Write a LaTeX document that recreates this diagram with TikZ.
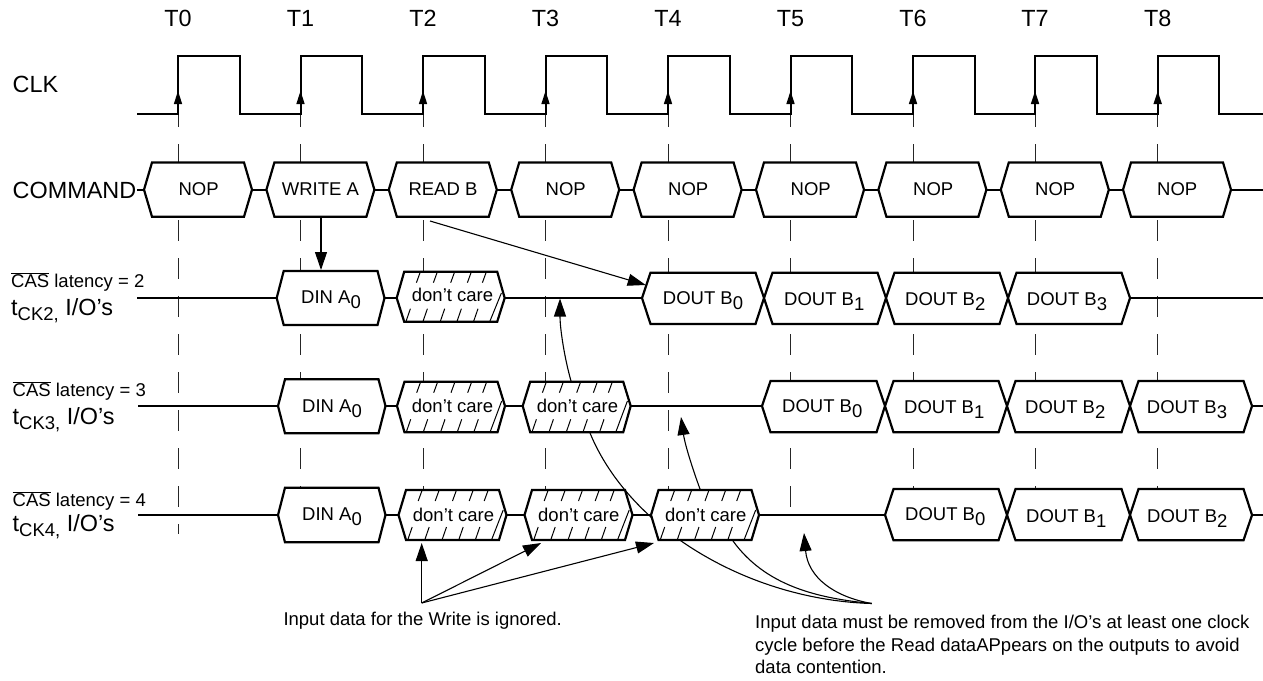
\documentclass[tikz,border=0pt]{standalone}
\usepackage{fontspec}
\setmainfont{Liberation Sans}
\usetikzlibrary{arrows.meta}
\newcommand\fsm{\fontsize{18.5}{22}\selectfont}
\newcommand\fbg{\fontsize{23.4}{28}\selectfont}
\newcommand\lowr[1]{\raisebox{-5pt}{#1}}
\tikzset{
  lbl/.style={anchor=base west,inner sep=0pt,font=\fsm},
  biglbl/.style={anchor=base west,inner sep=0pt,font=\fbg},
  tlbl/.style={anchor=base,inner sep=0pt,font=\fbg},
  sig/.style={line width=2.2pt,line join=miter},
  hexbody/.style={sig,fill=white},
  grid/.style={line width=1pt,dash pattern=on 21pt off 17pt,black!85},
  hatch/.style={line width=1pt},
  ckarrow/.style={line width=1.6pt,-{Triangle[length=13pt,width=8pt]}},
  note/.style={line width=1.1pt,-{Triangle[length=18pt,width=12pt]}},
  plainnote/.style={line width=1.1pt},
}
% name, left tip, right tip, mid, top, bottom, slant
\newcommand\sighex[7]{%
  \draw[hexbody] (#2,#4) -- (#2+#7,#5) -- (#3-#7,#5) -- (#3,#4) -- (#3-#7,#6) -- (#2+#7,#6) -- cycle;
  \coordinate (#1) at ({(#2+#3)/2},#4);
}
% name, left tip, mid, top, bottom
\newcommand\dchex[5]{%
  \sighex{#1}{#2}{#2+108}{#3}{#4}{#5}{7.5}
  \foreach \d in {23.7,40.7,58,74.7,89.7}
    \draw[hatch] (#2+\d,#4) -- (#2+\d-4,#4+11);
  \foreach \d in {13.7,30.7,48,64.7,81.3}
    \draw[hatch] (#2+\d,#5-13) -- (#2+\d-4.5,#5);
  \draw[hatch] (#2+104.7,#3-5) -- (#2+93,#5);
}
\begin{document}
\begin{tikzpicture}[x=1pt,y=-1pt]
\useasboundingbox (0,0) rectangle (1263,680);
% grid lines
\foreach \n/\x/\e in {0/178/534,1/300.5/488,2/423/490,3/545.5/490,4/668/490,5/790.5/507,6/913/489,7/1035/489,8/1157.7/489}{
  \coordinate (gt\n) at (\x,106);
  \coordinate (gb\n) at (\x,\e);
  \draw[grid] (gt\n) -- (gb\n);
}
% clock
\draw[line width=2pt,line join=miter] (137,113.5) -- (178,113.5) -- (178,56) -- (239.5,56) -- (239.5,113.5)
  -- (300.5,113.5) -- (300.5,56) -- (362,56) -- (362,113.5)
  -- (423,113.5) -- (423,56) -- (484.5,56) -- (484.5,113.5)
  -- (545.5,113.5) -- (545.5,56) -- (607,56) -- (607,113.5)
  -- (668,113.5) -- (668,56) -- (729.5,56) -- (729.5,113.5)
  -- (790.5,113.5) -- (790.5,56) -- (852,56) -- (852,113.5)
  -- (913,113.5) -- (913,56) -- (974.5,56) -- (974.5,113.5)
  -- (1035,113.5) -- (1035,56) -- (1097,56) -- (1097,113.5)
  -- (1157.7,113.5) -- (1157.7,56) -- (1219,56) -- (1219,113.5) -- (1263,113.5);
\foreach \n/\x in {0/178,1/300.5,2/423,3/545.5,4/668,5/790.5,6/913,7/1035,8/1157.7}{
  \coordinate (cka\n) at (\x,113);
  \coordinate (ckb\n) at (\x,91);
  \draw[ckarrow] (cka\n) -- (ckb\n);
  \node[tlbl] (t\n) at (\x,26.7) {T\n};
}
% signal base lines
\coordinate (r1a) at (137,189.7); \coordinate (r1b) at (1263,189.7);
\coordinate (r2a) at (137,298);   \coordinate (r2b) at (1263,298);
\coordinate (r3a) at (138,406);   \coordinate (r3b) at (1263,406);
\coordinate (r4a) at (138,515);   \coordinate (r4b) at (1263,515);
\draw[sig] (r1a) -- (r1b);
\draw[sig] (r2a) -- (r2b);
\draw[sig] (r3a) -- (r3b);
\draw[sig] (r4a) -- (r4b);
% command row
\foreach \k/\x in {0/144,1/266.4,2/388.8,3/511.2,4/633.6,5/756,6/878.4,7/1000.8,8/1123}
  \sighex{c\k}{\x}{\x+108}{189.7}{162.5}{216.7}{8};
% row 2
\sighex{a2}{276.7}{384.5}{298}{271}{325}{7}
\dchex{d2}{396.7}{298}{271.7}{321.7}
\sighex{b20}{642}{764}{298}{272.7}{324}{8.5}
\sighex{b21}{764}{886}{298}{272.7}{324}{8.5}
\sighex{b22}{886}{1008}{298}{272.7}{324}{8.5}
\sighex{b23}{1008}{1130}{298}{272.7}{324}{8.5}
% row 3
\sighex{a3}{278}{385.5}{406}{379.3}{433.3}{7}
\dchex{d3}{397}{406}{381.7}{432.3}
\dchex{e3}{522.7}{406}{381.7}{432.3}
\sighex{b30}{762}{885}{406}{381}{432.3}{8.5}
\sighex{b31}{885}{1007}{406}{381}{432.3}{8.5}
\sighex{b32}{1007}{1130}{406}{381}{432.3}{8.5}
\sighex{b33}{1130}{1252}{406}{381}{432.3}{8.5}
% row 4
\sighex{a4}{278}{385.5}{515}{487.7}{542.3}{7}
\dchex{d4}{398.5}{515}{490}{540}
\dchex{e4}{524.5}{515}{490}{540}
\sighex{b40}{885}{1007}{515}{489}{540.3}{8.5}
\sighex{b41}{1007}{1130}{515}{489}{540.3}{8.5}
\sighex{b42}{1130}{1252}{515}{489}{540.3}{8.5}
% long curve passes behind the third don't-care box
\coordinate (nr) at (871.7,603.5);
\coordinate (c3s) at (590,433);
\draw[plainnote] (c3s) .. controls (630,530) and (750,600) .. (nr);
\dchex{f4}{651}{515}{490}{540}
% notes connectors
\coordinate (wrs) at (321,217); \coordinate (din) at (321,270);
\draw[note] (wrs) -- (din);
\coordinate (rds) at (430,221); \coordinate (dob) at (645.7,285);
\draw[note] (rds) -- (dob);
\coordinate (e3t) at (571,381); \coordinate (r2t) at (560,298.5);
\draw[note] (e3t) .. controls (565,360) and (560,330) .. (r2t);
\coordinate (f4t) at (700,489); \coordinate (r3t) at (681,417);
\draw[note] (f4t) .. controls (693,470) and (685,445) .. (r3t);
\coordinate (f4b) at (733,541);
\draw[plainnote] (f4b) .. controls (765,585) and (815,598) .. (nr);
\coordinate (r4t) at (804,533);
\draw[note] (nr) .. controls (835,597) and (808,578) .. (r4t);
\coordinate (nl) at (421.7,603);
\coordinate (i1) at (421.7,543); \coordinate (i2) at (541,543); \coordinate (i3) at (654,543);
\draw[note] (nl) -- (i1);
\draw[note] (nl) -- (i2);
\draw[note] (nl) -- (i3);
% labels
\node[biglbl] (lclk) at (12.5,92) {CLK};
\node[biglbl] (lcmd) at (12.5,198) {COMMAND};
\node[lbl] (l2) at (11,287.7) {$\overline{\mbox{CAS}}$ latency = 2};
\node[lbl] (l3) at (12.5,396.7) {$\overline{\mbox{CAS}}$ latency = 3};
\node[lbl] (l4) at (12.5,506.7) {$\overline{\mbox{CAS}}$ latency = 4};
\node[biglbl] (k2) at (11,315) {t\lowr{\fsm CK2,} I/O’s};
\node[biglbl] (k3) at (12.5,424) {t\lowr{\fsm CK3,} I/O’s};
\node[biglbl] (k4) at (12.5,531.7) {t\lowr{\fsm CK4,} I/O’s};
\foreach \n/\x in {0/178.3,3/545.5,4/668,5/790.5,6/913,7/1035,8/1157}
  \node[lbl] (nop\n) at (\x,195) {NOP};
\node[lbl] (wr) at (281.7,195) {WRITE A};
\node[lbl] (rd) at (408.3,195) {READ B};
\node[lbl] (da2) at (301,303) {DIN A\lowr{0}};
\node[lbl] (da3) at (302,412) {DIN A\lowr{0}};
\node[lbl] (da4) at (302,520.7) {DIN A\lowr{0}};
\node[lbl] (dc2) at (411.7,301.7) {don’t care};
\node[lbl] (dc3) at (411.7,412) {don’t care};
\node[lbl] (ec3) at (536.7,412) {don’t care};
\node[lbl] (dc4) at (412.7,521.7) {don’t care};
\node[lbl] (ec4) at (538,521.7) {don’t care};
\node[lbl] (fc4) at (665,521) {don’t care};
\node[lbl] (o20) at (662.7,304) {DOUT B\lowr{0}};
\node[lbl] (o21) at (784,305) {DOUT B\lowr{1}};
\node[lbl] (o22) at (905,305.7) {DOUT B\lowr{2}};
\node[lbl] (o23) at (1026.7,305.7) {DOUT B\lowr{3}};
\node[lbl] (o30) at (782,412) {DOUT B\lowr{0}};
\node[lbl] (o31) at (904,413.3) {DOUT B\lowr{1}};
\node[lbl] (o32) at (1025,413.3) {DOUT B\lowr{2}};
\node[lbl] (o33) at (1146.7,413.3) {DOUT B\lowr{3}};
\node[lbl] (o40) at (905,520) {DOUT B\lowr{0}};
\node[lbl] (o41) at (1026,522) {DOUT B\lowr{1}};
\node[lbl] (o42) at (1147,522) {DOUT B\lowr{2}};
\node[lbl] (nt1) at (283.3,625) {Input data for the Write is ignored.};
\node[lbl] (nt2) at (755,628) {Input data must be removed from the I/O’s at least one clock};
\node[lbl] (nt3) at (755,651) {cycle before the Read dataAPpears on the outputs to avoid};
\node[lbl] (nt4) at (755,673) {data contention.};
\end{tikzpicture}
\end{document}
